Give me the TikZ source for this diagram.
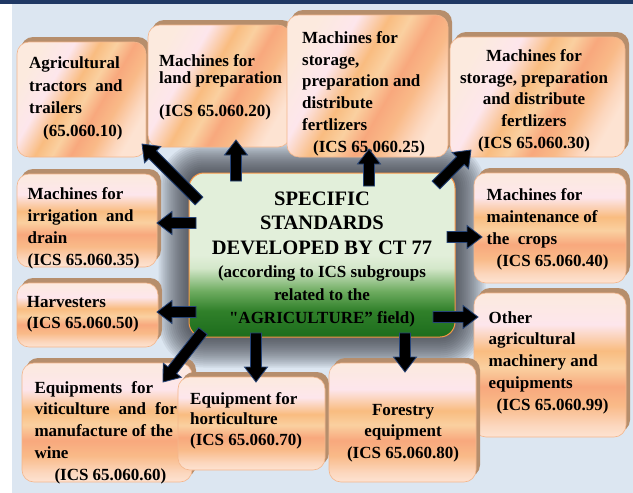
\documentclass[tikz,border=0pt]{standalone}
\usepackage{fontspec}
\setmainfont{Liberation Serif}
\usetikzlibrary{calc}

\pgfdeclarelayer{bg}
\pgfsetlayers{bg,main}

\definecolor{panel}{RGB}{220,230,241}
\definecolor{navybar}{RGB}{31,56,100}
\definecolor{peachline}{RGB}{244,182,140}
\definecolor{tanshadow}{RGB}{182,142,108}
\definecolor{ctrline}{RGB}{247,150,70}
\definecolor{arrline}{RGB}{38,68,120}
\definecolor{halocol}{RGB}{45,48,55}

% colours of the peach boxes
\definecolor{pBot}{RGB}{253,227,210}
\definecolor{pLow}{RGB}{252,215,190}
\definecolor{pOrA}{RGB}{249,186,136}
\definecolor{pSal}{RGB}{248,168,125}
\definecolor{pApr}{RGB}{250,208,160}
\definecolor{pOrB}{RGB}{249,188,128}
\definecolor{pPink}{RGB}{253,230,236}
\definecolor{pTop}{RGB}{252,234,222}
% colours of the central box
\definecolor{gDark}{RGB}{28,108,28}
\definecolor{gMid}{RGB}{48,128,42}
\definecolor{gSoft}{RGB}{110,172,96}
\definecolor{gPale}{RGB}{212,231,202}
\definecolor{gLight}{RGB}{226,239,218}

\pgfdeclareverticalshading{peach}{100bp}{%
  color(0bp)=(pBot); color(25bp)=(pBot); color(29bp)=(pLow); color(36bp)=(pOrA);
  color(42.5bp)=(pSal); color(49bp)=(pApr); color(55bp)=(pOrB); color(64bp)=(pPink);
  color(75bp)=(pTop); color(100bp)=(pTop)}
\pgfdeclareverticalshading{greenfade}{100bp}{%
  color(0bp)=(gDark); color(25bp)=(gDark); color(33bp)=(gMid); color(39bp)=(gSoft);
  color(46bp)=(gPale); color(50bp)=(gLight); color(100bp)=(gLight)}

\newcommand\firstln{\rule{0pt}{12pt}}
% straight double quote, set as a glyph so that the TeX mapping leaves it alone
\newcommand\straightdq{{\XeTeXglyph\XeTeXcharglyph"22\relax}}

% block arrow from #1 to #2
\newcommand\blockarrow[2]{%
  \draw[barrow] let \p1=(#1), \p2=(#2),
      \n1={atan2(\y2-\y1,\x2-\x1)}, \n2={veclen(\x2-\x1,\y2-\y1)} in
    ([shift={(\p1)},rotate=\n1]0pt,-5.5pt)
    -- ([shift={(\p1)},rotate=\n1]\n2*1pt-15pt,-5.5pt)
    -- ([shift={(\p1)},rotate=\n1]\n2*1pt-15pt,-11.5pt)
    -- ([shift={(\p1)},rotate=\n1]\n2*1pt,0pt)
    -- ([shift={(\p1)},rotate=\n1]\n2*1pt-15pt,11.5pt)
    -- ([shift={(\p1)},rotate=\n1]\n2*1pt-15pt,5.5pt)
    -- ([shift={(\p1)},rotate=\n1]0pt,5.5pt) -- cycle;}

\begin{document}
\begin{tikzpicture}[x=1pt,y=-1pt,
  pbox/.style={draw=peachline, line width=0.6pt, rounded corners=12pt,
    shade, shading=peach, inner sep=0pt,
    preaction={fill=tanshadow, transform canvas={xshift=4pt,yshift=5pt}}},
  toprow/.style={pbox, shading angle=60},
  centerbox/.style={draw=ctrline, line width=1pt, rounded corners=15pt,
    shade, shading=greenfade, inner sep=0pt},
  txt/.style={inner sep=0pt, align=left, anchor=north west},
  ctxt/.style={inner sep=0pt, align=center, anchor=north},
  barrow/.style={fill=black, draw=arrline, line width=0.8pt}]
\useasboundingbox (0,0) rectangle (633,493);

% central box
\node[centerbox, minimum width=266pt, minimum height=164pt] (ctr) at (322,255) {};

% backdrop, top bar and the dark glow around the central box
\begin{pgfonlayer}{bg}
  \fill[white] (0,0) rectangle (633,493);
  \fill[panel] (12,4) rectangle (633,493);
  \fill[navybar] (0,0) rectangle (633,4);
  \foreach \d [evaluate=\d as \r using 15+\d] in {30,28,...,2}
    \fill[halocol, opacity=0.075, rounded corners=\r pt]
      ([xshift=-\d pt,yshift=-\d pt]ctr.south west) rectangle
      ([xshift=\d pt,yshift=\d pt]ctr.north east);
\end{pgfonlayer}

% subgroup boxes
\node[toprow, minimum width=129pt, minimum height=115pt] (b1) at (81.5,99.5) {};
\node[toprow, minimum width=142pt, minimum height=122pt] (b2) at (219,86) {};
\node[toprow, minimum width=161pt, minimum height=142pt] (b3) at (367.5,86) {};
\node[toprow, minimum width=175pt, minimum height=120pt] (b4) at (537.5,97) {};
\node[pbox, minimum width=140pt, minimum height=93pt] (b5) at (87,220.5) {};
\node[pbox, minimum width=141pt, minimum height=64pt] (b6) at (87.5,315) {};
\node[pbox, minimum width=152pt, minimum height=110pt] (b7) at (550,228) {};
\node[pbox, minimum width=152pt, minimum height=144pt] (b8) at (550,365) {};
\node[pbox, minimum width=170pt, minimum height=119pt] (b9) at (107,422.5) {};
\node[pbox, minimum width=147pt, minimum height=93pt] (b10) at (251.5,423.5) {};
\node[pbox, minimum width=147pt, minimum height=119pt] (b11) at (402.5,422.5) {};

% texts
\node[txt, font=\bfseries\fontsize{17}{22.8}\selectfont] (t1) at (29,56)
  {\firstln Agricultural\\ tractors~~and\\ trailers\\ \hspace*{14pt}(65.060.10)};
\node[txt, font=\bfseries\fontsize{17}{17.5}\selectfont] (t2) at (159,54)
  {\firstln Machines for\\ land preparation\\[15pt] (ICS 65.060.20)};
\node[txt, font=\bfseries\fontsize{17}{21.8}\selectfont] (t3) at (302,31)
  {\firstln Machines for\\ storage,\\ preparation and\\ distribute\\ fertlizers\\ \hspace*{11pt}(ICS 65.060.25)};
\node[ctxt, font=\bfseries\fontsize{17}{21.6}\selectfont] (t4) at (534,49.5)
  {\firstln Machines for\\ storage, preparation\\ and distribute\\ fertlizers\\ (ICS 65.060.30)};
\node[txt, font=\bfseries\fontsize{17}{22}\selectfont] (t5) at (27.5,187)
  {\firstln Machines for\\ irrigation~~and\\ drain\\ (ICS 65.060.35)};
\node[txt, font=\bfseries\fontsize{17}{21}\selectfont] (t6) at (26.6,295)
  {\firstln Harvesters\\ (ICS 65.060.50)};
\node[txt, font=\bfseries\fontsize{17}{22}\selectfont] (t7) at (486.5,188)
  {\firstln Machines for\\ maintenance of\\ the~~crops\\ \hspace*{10pt}(ICS 65.060.40)};
\node[txt, font=\bfseries\fontsize{17}{21.75}\selectfont] (t8) at (488.5,311)
  {\firstln Other\\ agricultural\\ machinery and\\ equipments\\ \hspace*{8pt}(ICS 65.060.99)};
\node[txt, font=\bfseries\fontsize{17}{21.75}\selectfont] (t9) at (34.3,381)
  {\firstln Equipments\hspace{9pt}for\\ viticulture\hspace{9pt}and\hspace{9pt}for\\ manufacture of the\\ wine\\ \hspace*{20pt}(ICS 65.060.60)};
\node[txt, font=\bfseries\fontsize{17}{20.5}\selectfont] (t10) at (190,392)
  {\firstln Equipment for\\ horticulture\\ (ICS 65.060.70)};
\node[ctxt, font=\bfseries\fontsize{17}{21.5}\selectfont] (t11) at (403,403)
  {\firstln Forestry\\ equipment\\ (ICS 65.060.80)};
\node[ctxt, font=\bfseries\fontsize{20.5}{24.5}\selectfont] (ttl) at (322,190)
  {\rule{0pt}{15pt}SPECIFIC\\ STANDARDS\\ DEVELOPED BY CT 77};
\node[ctxt, font=\bfseries\fontsize{17}{23}\selectfont] (sub) at (322,265)
  {\firstln (according to ICS subgroups\\ related to the\\ \straightdq AGRICULTURE” field)};

% arrow ends
\coordinate (a1s) at (199,201);  \coordinate (a1e) at (142,144);
\coordinate (a2s) at (236,181);  \coordinate (a2e) at (236,140);
\coordinate (a3s) at (369,186);  \coordinate (a3e) at (369,149);
\coordinate (a4s) at (436,185);  \coordinate (a4e) at (471,150);
\coordinate (a5s) at (196,223);  \coordinate (a5e) at (157,223);
\coordinate (a6s) at (196,312);  \coordinate (a6e) at (157,312);
\coordinate (a7s) at (447,237);  \coordinate (a7e) at (482,237);
\coordinate (a8s) at (433,317);  \coordinate (a8e) at (478,317);
\coordinate (a9s) at (203,331);  \coordinate (a9e) at (163,382);
\coordinate (a10s) at (256,333); \coordinate (a10e) at (256,382);
\coordinate (a11s) at (405,333); \coordinate (a11e) at (405,372);

\foreach \k in {1,...,11} {\blockarrow{a\k s}{a\k e}}
\end{tikzpicture}
\end{document}
